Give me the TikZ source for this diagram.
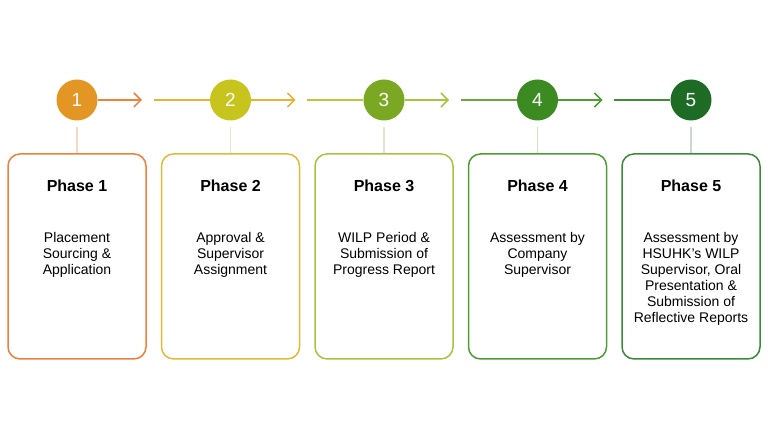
\documentclass[tikz,border=0pt]{standalone}
\usepackage{fontspec}
\setmainfont{Liberation Sans}
\usetikzlibrary{arrows.meta,positioning}

\definecolor{ph1}{HTML}{EE7F3C}
\definecolor{ph2}{HTML}{E1BB35}
\definecolor{ph3}{HTML}{A9C33F}
\definecolor{ph4}{HTML}{4F9B36}
\definecolor{ph5}{HTML}{3B8A3B}
\definecolor{dot1}{HTML}{E39624}
\definecolor{dot2}{HTML}{C8C41E}
\definecolor{dot3}{HTML}{7AA823}
\definecolor{dot4}{HTML}{3C8A22}
\definecolor{dot5}{HTML}{1E6B25}
\definecolor{line2}{HTML}{E4B535}
\definecolor{line3}{HTML}{B7CB3A}
\definecolor{line4}{HTML}{6BA73C}
\definecolor{line5}{HTML}{3E8B3A}
\definecolor{pale1}{HTML}{F6D8C8}
\definecolor{pale2}{HTML}{EDE3C5}
\definecolor{pale3}{HTML}{E0E6CC}
\definecolor{pale4}{HTML}{D5DDD0}
\definecolor{pale5}{HTML}{D0D6D2}

\begin{document}
\begin{tikzpicture}[x=1pt,y=-1pt,node distance=153.5pt,
  num node/.style={circle,fill=#1,text=white,minimum size=41pt,inner sep=0pt,font=\fontsize{19}{19}\selectfont},
  phase box/.style={draw=#1,line width=1.5pt,rounded corners=12pt,minimum width=138pt,minimum height=205pt,inner sep=0pt},
  title/.style={anchor=north,inner sep=0pt,font=\fontsize{16}{18}\selectfont\bfseries},
  body/.style={anchor=north,inner sep=0pt,align=center,font=\fontsize{14}{16}\selectfont},
  flow/.style={line width=1.5pt,-{Straight Barb[length=7pt,width=14pt,line width=1.5pt]}},
  feed/.style={line width=1.5pt},
  stem/.style={line width=1.2pt,shorten <=6pt}]

  \useasboundingbox (0,0) rectangle (768,438);

  \node[num node=dot1] (c1) at (77,100) {1};
  \node[num node=dot2] (c2) [right of=c1] {2};
  \node[num node=dot3] (c3) [right of=c2] {3};
  \node[num node=dot4] (c4) [right of=c3] {4};
  \node[num node=dot5] (c5) [right of=c4] {5};

  \node[phase box=ph1] (p1) [below=32.5pt of c1] {};
  \node[phase box=ph2] (p2) [below=32.5pt of c2] {};
  \node[phase box=ph3] (p3) [below=32.5pt of c3] {};
  \node[phase box=ph4] (p4) [below=32.5pt of c4] {};
  \node[phase box=ph5] (p5) [below=32.5pt of c5] {};

  \node[title] (t1) [below=26.5pt of p1.north] {Phase 1};
  \node[title] (t2) [below=26.5pt of p2.north] {Phase 2};
  \node[title] (t3) [below=26.5pt of p3.north] {Phase 3};
  \node[title] (t4) [below=26.5pt of p4.north] {Phase 4};
  \node[title] (t5) [below=26.5pt of p5.north] {Phase 5};

  \node[body] (b1) [below=79pt of p1.north] {Placement\\Sourcing \&\\Application};
  \node[body] (b2) [below=79pt of p2.north] {Approval \&\\Supervisor\\Assignment};
  \node[body] (b3) [below=79pt of p3.north] {WILP Period \&\\Submission of\\Progress Report};
  \node[body] (b4) [below=79pt of p4.north] {Assessment by\\Company\\Supervisor};
  \node[body] (b5) [below=79pt of p5.north] {Assessment by\\HSUHK’s WILP\\Supervisor, Oral\\Presentation \&\\Submission of\\Reflective Reports};

  % arrow ends and line starts
  \coordinate (a1) at ([xshift=65pt]c1.center);
  \coordinate (a2) at ([xshift=65pt]c2.center);
  \coordinate (a3) at ([xshift=65pt]c3.center);
  \coordinate (a4) at ([xshift=65pt]c4.center);
  \coordinate (s2) at ([xshift=-77pt]c2.center);
  \coordinate (s3) at ([xshift=-77pt]c3.center);
  \coordinate (s4) at ([xshift=-77pt]c4.center);
  \coordinate (s5) at ([xshift=-77pt]c5.center);

  \draw[flow,ph1] (c1) -- (a1);
  \draw[flow,line2] (c2) -- (a2);
  \draw[flow,ph3] (c3) -- (a3);
  \draw[flow,ph4] (c4) -- (a4);

  \draw[feed,line2] (s2) -- (c2);
  \draw[feed,line3] (s3) -- (c3);
  \draw[feed,line4] (s4) -- (c4);
  \draw[feed,line5] (s5) -- (c5);

  \draw[stem,pale1] (c1) -- (p1);
  \draw[stem,pale2] (c2) -- (p2);
  \draw[stem,pale3] (c3) -- (p3);
  \draw[stem,pale4] (c4) -- (p4);
  \draw[stem,pale5] (c5) -- (p5);
\end{tikzpicture}
\end{document}
